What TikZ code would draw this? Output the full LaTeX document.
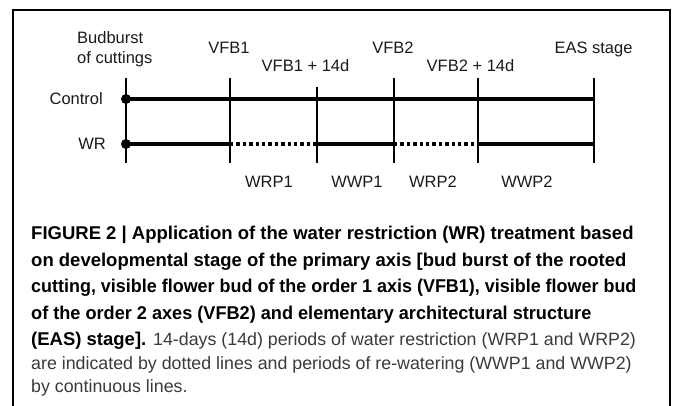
\documentclass[tikz,border=0pt]{standalone}
\usepackage{graphicx}
\usepackage{fontspec}
\setmainfont{Liberation Sans}
\usetikzlibrary{positioning}
\definecolor{Ink}{HTML}{1A1A1A}
\definecolor{Grey}{HTML}{3A3A3A}
\newcommand{\captxt}[1]{{\mdseries\fontsize{17.8}{26.5}\selectfont\color{Grey}#1}}

\begin{document}
\begin{tikzpicture}[x=1pt,y=1pt,font=\fontsize{16.5}{20}\selectfont,
  lbl/.style={inner sep=0pt,text=Ink},
  tick/.style={line width=1.2pt},
  trk/.style={line width=3.4pt},
  dry/.style={line width=3.4pt,dash pattern=on 3.4pt off 3pt},
  dot/.style={circle,fill,inner sep=0pt,minimum size=10pt}]
\useasboundingbox (0,0) rectangle (675,405);
\draw[line width=2pt] (13,-5) -- (13,395) -- (670,395) -- (670,-5);
\def\yC{306}\def\yW{261}\def\yT{327}\def\yB{242}
\def\xB{126}\def\xV{230}\def\xVd{317}\def\xU{394}\def\xUd{478}\def\xE{594}
% stage ticks
\foreach \n/\x/\t in {B/\xB/\yT,V/\xV/\yT,Vd/\xVd/318,U/\xU/\yT,Ud/\xUd/\yT,E/\xE/\yT}{
  \coordinate (\n-t) at (\x,\t);
  \coordinate (\n-b) at (\x,\yB);
  \coordinate (\n-c) at (\x,\yC);
  \coordinate (\n-w) at (\x,\yW);
  \draw[tick] (\n-t) -- (\n-b);}
% treatments
\draw[trk] (B-c) -- (E-c);
\draw[trk] (B-w) -- (V-w) (Vd-w) -- (U-w) (Ud-w) -- (E-w);
\draw[dry] (V-w) -- (Vd-w) (U-w) -- (Ud-w);
\node[dot] (start-c) at (B-c) {};
\node[dot] (start-w) at (B-w) {};
\node[lbl,anchor=base east] (ctrl) at (103,300) {Control};
\node[lbl,anchor=base east] (wr) at (106,255) {WR};
% stages
\node[lbl,align=left,anchor=north west] (bud) at (77,374) {Budburst\\of cuttings};
\node[lbl,anchor=base] (vfb1) at (229,351) {VFB1};
\node[lbl,anchor=base] (vfb1d) at (305.5,333) {VFB1 + 14d};
\node[lbl,anchor=base] (vfb2) at (393,351) {VFB2};
\node[lbl,anchor=base] (vfb2d) at (470.5,333) {VFB2 + 14d};
\node[lbl,anchor=base] (eas) at (593.5,351) {EAS stage};
% periods
\node[lbl,anchor=base] (wrp1) at (269,218) {WRP1};
\node[lbl,anchor=base] (wwp1) at (357,218) {WWP1};
\node[lbl,anchor=base] (wrp2) at (433,218) {WRP2};
\node[lbl,anchor=base] (wwp2) at (527,218) {WWP2};
% caption
\node[lbl,text=black,align=left,anchor=north west,
      font=\fontsize{18.5}{26.5}\selectfont\bfseries] (cap) at (31,179)
  {FIGURE 2 | Application of the water restriction (WR) treatment based\\
   on developmental stage of the primary axis [bud burst of the rooted\\
   \scalebox{0.97}[1]{cutting, visible flower bud of the order 1 axis (VFB1), visible flower bud}\\
   \scalebox{0.98}[1]{of the order 2 axes (VFB2) and elementary architectural structure}\\
   (EAS) stage]. \captxt{14-days (14d) periods of water restriction (WRP1 and WRP2)}\\[-3pt]
   \captxt{are indicated by dotted lines and periods of re-watering (WWP1 and WWP2)}\\[-3pt]
   \captxt{by continuous lines.}};
\end{tikzpicture}
\end{document}
